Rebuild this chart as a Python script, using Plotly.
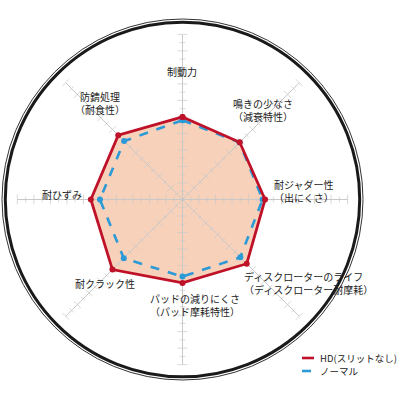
import plotly.graph_objects as go

# axes, clockwise from the top
categories = [
    "制動力",
    "鳴きの少なさ<br>（減衰特性）",
    "耐ジャダー性<br>（出にくさ）",
    "ディスクローターのライフ<br>（ディスクローター耐摩耗）",
    "パッドの減りにくさ<br>（パッド摩耗特性）",
    "耐クラック性",
    "耐ひずみ",
    "防錆処理<br>（耐食性）",
]
hd_values = [5.0, 4.9, 5.0, 5.5, 5.05, 6.0, 5.55, 5.5]
normal_values = [4.8, 4.88, 4.85, 4.95, 4.67, 5.03, 5.0, 5.0]
series_names = ["HD(スリットなし)", "ノーマル"]
tick_steps = [i * 0.5 for i in range(1, 21)]

RED = "#bf1128"
BLUE = "#2b9ad6"
FONT = "Noto Sans CJK JP"
W, H = 400, 400


def px(x):
    return x / W


def py(y):
    return 1 - y / H


angles = [i * 45 for i in range(len(categories))]

fig = go.Figure()

# filled area of HD
fig.add_trace(go.Scatterpolar(
    r=hd_values + hd_values[:1], theta=angles + angles[:1],
    mode="lines", fill="toself", fillcolor="#f8d1bb",
    line=dict(width=0), hoverinfo="skip", showlegend=False))

# spokes with tick marks
for a in angles:
    fig.add_trace(go.Scatterpolar(
        r=[0, tick_steps[-1]], theta=[a, a], mode="lines",
        line=dict(color="#c8c8c8", width=1), hoverinfo="skip", showlegend=False))
    fig.add_trace(go.Scatterpolar(
        r=tick_steps, theta=[a] * len(tick_steps), mode="markers",
        marker=dict(symbol="line-ew", angle=a,
                    size=[7 if t % 1 == 0 else 4 for t in tick_steps],
                    line=dict(color="#cacaca", width=1)),
        hoverinfo="skip", showlegend=False))

fig.add_trace(go.Scatterpolar(
    r=normal_values + normal_values[:1], theta=angles + angles[:1],
    mode="lines+markers", name=series_names[1],
    line=dict(color=BLUE, width=2.6, dash="dash"),
    marker=dict(size=6, color=BLUE), showlegend=False))

fig.add_trace(go.Scatterpolar(
    r=hd_values + hd_values[:1], theta=angles + angles[:1],
    mode="lines+markers", name=series_names[0],
    line=dict(color=RED, width=2.8),
    marker=dict(size=6, color=RED), showlegend=False))

fig.update_layout(
    width=W, height=H,
    margin=dict(l=0, r=0, t=0, b=0),
    paper_bgcolor="white",
    font=dict(family=FONT, size=10, color="#222"),
    polar=dict(
        domain=dict(x=[px(2), px(363)], y=[py(380), py(19)]),
        bgcolor="white",
        radialaxis=dict(range=[0, 10.93], tickvals=[10.73], showticklabels=False,
                        ticks="", showline=False, showgrid=True,
                        gridcolor="#1a1a1a", gridwidth=2.6),
        angularaxis=dict(rotation=90, direction="clockwise", showgrid=False,
                         showticklabels=False, ticks="", showline=True,
                         linecolor="#333", linewidth=1),
    ),
)

# axis labels (pixel anchors in the page)
label_pos = [
    (182, 71, "center"),
    (263, 110, "center"),
    (272, 191, "left"),
    (242, 283, "left"),
    (195, 305, "center"),
    (105, 283, "center"),
    (62, 194, "center"),
    (100, 103, "center"),
]
for text, (lx, ly, anchor) in zip(categories, label_pos):
    fig.add_annotation(x=px(lx), y=py(ly), xref="paper", yref="paper",
                       text=text, showarrow=False, xanchor=anchor, yanchor="middle",
                       align="left" if anchor == "left" else "center",
                       font=dict(size=10, family=FONT, color="#222"))

# legend drawn by hand (short line samples)
legend_rows = [(358, RED, "solid"), (371, BLUE, "dash")]
for name, (ly, col, dash) in zip(series_names, legend_rows):
    fig.add_shape(type="line", xref="paper", yref="paper",
                  x0=px(302), x1=px(314), y0=py(ly), y1=py(ly),
                  line=dict(color=col, width=2.6, dash=dash))
    fig.add_annotation(x=px(318), y=py(ly), xref="paper", yref="paper",
                       text=name, showarrow=False, xanchor="left", yanchor="middle",
                       font=dict(size=9.5, family=FONT, color="#222"))

# drop the page's default body margin so the figure sits at the window corner
fig.write_html("out.html", config={"displayModeBar": False},
               post_script="document.body.style.margin='0';document.body.style.overflow='hidden';")
